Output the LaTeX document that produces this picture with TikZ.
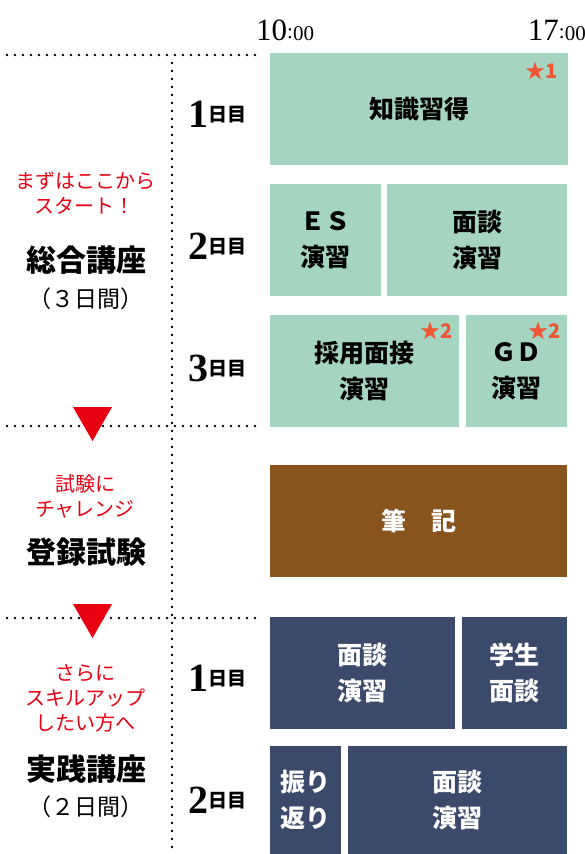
\documentclass[tikz,border=0pt]{standalone}
\usepackage{fontspec}
\setmainfont{Noto Sans CJK JP}
\newfontfamily\numfont{Liberation Serif}
\usetikzlibrary{positioning}
\definecolor{sessiongreen}{RGB}{165,213,193}
\definecolor{exambrown}{RGB}{135,84,29}
\definecolor{practicenavy}{RGB}{59,74,107}
\definecolor{leadred}{RGB}{230,0,18}
\definecolor{starorange}{RGB}{238,85,51}
\tikzset{%
  % Specifications for the boxes of the timetable:
  slot/.style = {rectangle, inner sep=0pt, outer sep=0pt,
    minimum height=112pt, align=center,
    font=\fontsize{25}{36}\selectfont\bfseries},
  greenslot/.style = {slot, fill=sessiongreen, text=black},
  brownslot/.style = {slot, fill=exambrown, text=white},
  navyslot/.style = {slot, fill=practicenavy, text=white},
  % Specifications for the texts at the left:
  lead/.style = {align=center, text=leadred, inner sep=0pt,
    font=\fontsize{20}{25}\selectfont},
  course/.style = {inner sep=0pt, font=\fontsize{30}{34}\selectfont\bfseries},
  spanlbl/.style = {inner sep=0pt, font=\fontsize{23}{26}\selectfont},
  day/.style = {inner sep=0pt},
  timelbl/.style = {inner sep=0pt, font=\numfont\fontsize{31}{31}\selectfont},
  starmark/.style = {inner sep=0pt, anchor=north east, text=starorange,
    font=\fontsize{20}{20}\selectfont\bfseries},
  dots/.style = {line width=2.6pt, line cap=round, dash pattern=on 0pt off 8pt},
}
\newcommand{\daynum}[1]{{\numfont\bfseries\fontsize{40}{40}\selectfont #1}%
  \raisebox{6pt}{\fontsize{19}{19}\selectfont\bfseries 日目}}
\newcommand{\minutes}{{\fontsize{21}{21}\selectfont\raisebox{2pt}{:}00}}

\begin{document}
\begin{tikzpicture}[x=1pt, y=-1pt]
  \useasboundingbox (0,0) rectangle (585,854);
  % times
  \node[timelbl, anchor=base west] (t10) at (256,40) {10\minutes};
  \node[timelbl, anchor=base east] (t17) at (586,40) {17\minutes};
  % dotted guides
  \draw[dots] (7,55) -- (259,55);
  \draw[dots] (172,63) -- (172,850);
  \draw[dots] (7,426) -- (259,426);
  \draw[dots] (7,618) -- (259,618);
  \fill[leadred] (73,407) -- (112,407) -- (92.5,441) -- cycle;
  \fill[leadred] (73,604) -- (112,604) -- (92.5,638) -- cycle;
  % basic course
  \node[lead] (start) at (85,193) {まずはここから\\スタート！};
  \node[course] (basic) at (86,260) {総合講座};
  \node[spanlbl] (basicdays) at (86,299) {（３日間）};
  \node[day] (bday1) at (217,114) {\daynum{1}};
  \node[day] (bday2) at (217,246) {\daynum{2}};
  \node[day] (bday3) at (217,368) {\daynum{3}};
  \node[greenslot, minimum width=298pt, anchor=north west] (know) at (270,53) {知識習得};
  \node[greenslot, minimum width=111pt, anchor=north west] (es) at (270,184) {ＥＳ\\演習};
  \node[greenslot, minimum width=180pt, right=6pt of es] (talk) {面談\\演習};
  \node[greenslot, minimum width=189pt, anchor=north west] (hire) at (270,315) {採用面接\\演習};
  \node[greenslot, minimum width=101pt, right=7pt of hire] (gd) {ＧＤ\\演習};
  \node[starmark] (star1) at ([xshift=-10pt,yshift=-9pt]know.north east) {★1};
  \node[starmark] (star2) at ([xshift=-6pt,yshift=-7pt]hire.north east) {★2};
  \node[starmark] (star3) at ([xshift=-6pt,yshift=-7pt]gd.north east) {★2};
  % exam
  \node[lead] (challenge) at (85,497) {試験に\\チャレンジ};
  \node[course] (examlbl) at (86,552) {登録試験};
  \node[brownslot, minimum width=297pt, anchor=north west] (exam) at (270,465) {筆　記};
  % practical course
  \node[lead] (more) at (85,698) {さらに\\スキルアップ\\したい方へ};
  \node[course] (practice) at (86,769) {実践講座};
  \node[spanlbl] (practicedays) at (86,807) {（２日間）};
  \node[day] (pday1) at (217,678) {\daynum{1}};
  \node[day] (pday2) at (217,800) {\daynum{2}};
  \node[navyslot, minimum width=185pt, anchor=north west] (ptalk) at (270,617) {面談\\演習};
  \node[navyslot, minimum width=105pt, right=7pt of ptalk] (student) {学生\\面談};
  \node[navyslot, minimum width=71pt, minimum height=108pt, anchor=north west] (review) at (270,746) {振り\\返り};
  \node[navyslot, minimum width=219pt, minimum height=108pt, right=7pt of review] (ptalk2) {面談\\演習};
\end{tikzpicture}
\end{document}
